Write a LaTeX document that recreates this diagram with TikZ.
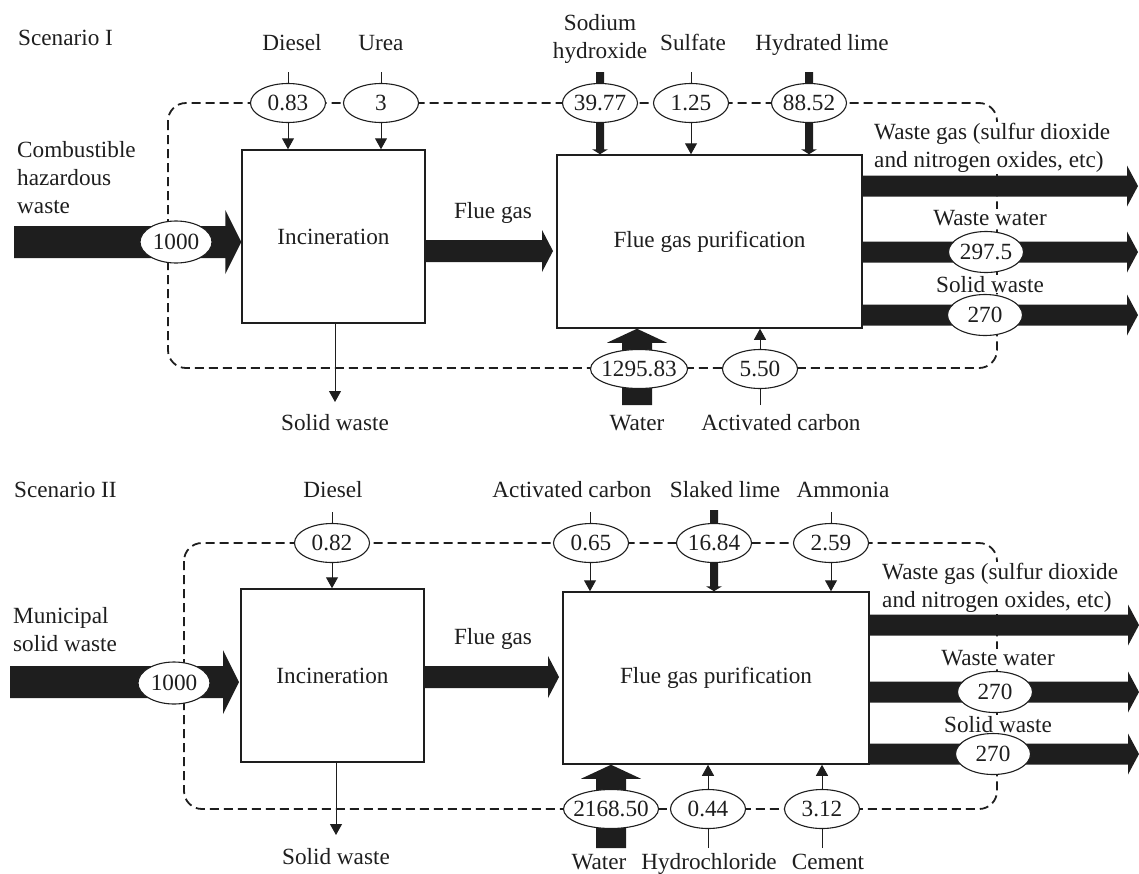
\documentclass[tikz,border=0pt]{standalone}
\usepackage{fontspec}
\setmainfont{Liberation Serif}
\usetikzlibrary{arrows.meta,shapes.geometric,calc,backgrounds}
\definecolor{ink}{HTML}{1E1E1E}
\newcommand\nb[1]{\makebox[0pt]{#1}}
% fat arrows: #1 start, #2 end, #3 body half width, #4 head half width, #5 head length
\newcommand\fatR[5]{\fill[fat] let \p1=(#1), \p2=(#2) in (\x1,\y1+#3) -- (\x2-#5,\y1+#3) -- (\x2-#5,\y1+#4) -- (\x2,\y1) -- (\x2-#5,\y1-#4) -- (\x2-#5,\y1-#3) -- (\x1,\y1-#3) -- cycle;}
\newcommand\fatU[5]{\fill[fat] let \p1=(#1), \p2=(#2) in (\x1-#3,\y1) -- (\x1-#3,\y2-#5) -- (\x1-#4,\y2-#5) -- (\x1,\y2) -- (\x1+#4,\y2-#5) -- (\x1+#3,\y2-#5) -- (\x1+#3,\y1) -- cycle;}
\newcommand\fatD[5]{\fill[fat] let \p1=(#1), \p2=(#2) in (\x1-#3,\y1) -- (\x1-#3,\y2+#5) -- (\x1-#4,\y2+#5) -- (\x1,\y2) -- (\x1+#4,\y2+#5) -- (\x1+#3,\y2+#5) -- (\x1+#3,\y1) -- cycle;}
\tikzset{
  every node/.style={font=\fontsize{23.2}{28}\selectfont, text=ink},
  lbl/.style={fill=white, inner sep=1pt},
  procbox/.style={rectangle, draw=ink, line width=1.5pt, fill=white, inner sep=0pt},
  val/.style={ellipse, draw=ink, line width=1.1pt, fill=white, minimum width=75pt, minimum height=39pt, inner sep=0pt},
  feedarrow/.style={draw=ink, line width=1pt, -{Triangle[width=12pt,length=11pt]}},
  loopline/.style={draw=ink, line width=1.8pt, dash pattern=on 9pt off 5pt, rounded corners=18pt},
  fat/.style={fill=ink},
}
\begin{document}
\begin{tikzpicture}[x=1pt,y=-1pt]
\useasboundingbox (0,0) rectangle (1139,873);

% ================= Scenario I =================
\node[lbl, anchor=base west] (s1) at (17,45) {Scenario I};
\node[lbl, anchor=base] (dsl1) at (292,50) {Diesel};
\node[lbl, anchor=base] (urea1) at (381,50) {Urea};
\node[lbl, anchor=north, align=center] (naoh1) at (600,13) {Sodium\\hydroxide};
\node[lbl, anchor=base] (sulf1) at (693,50) {Sulfate};
\node[lbl, anchor=base] (hyd1) at (822,50) {Hydrated lime};
\node[lbl, anchor=north west, align=left] (in1l) at (16,140) {Combustible\\hazardous\\waste};
\node[lbl, anchor=base] (fg1l) at (493,218) {Flue gas};
\node[lbl, anchor=north west, align=left] (wg1l) at (873,122) {Waste gas (sulfur dioxide\\and nitrogen oxides, etc)};
\node[lbl, anchor=base] (ww1l) at (990,225) {Waste water};
\node[lbl, anchor=base] (sw1l) at (990,292) {Solid waste};
\node[lbl, anchor=base] (isw1l) at (335,430) {Solid waste};
\node[lbl, anchor=base] (wat1l) at (637,430) {Water};
\node[lbl, anchor=base] (ac1l) at (781,430) {Activated carbon};

\node[procbox, minimum width=183pt, minimum height=173pt] (inc1) at (333.5,236.5) {Incineration};
\node[procbox, minimum width=305pt, minimum height=173pt] (fgp1) at (709.5,241.5) {Flue gas purification};

\coordinate (dsl1t) at (288,72);
\coordinate (urea1t) at (381,72);
\coordinate (naoh1t) at (600,72);
\coordinate (sulf1t) at (691,72);
\coordinate (hyd1t) at (809,72);
\coordinate (wat1b) at (637,405);
\coordinate (ac1b) at (760,405);
\coordinate (in1s) at (14,242);
\coordinate (fg1s) at (426,251);
\coordinate (fg1e) at (553,251);
\coordinate (o1as) at (862,186);
\coordinate (o1ae) at (1138,186);
\coordinate (o1bs) at (862,252);
\coordinate (o1be) at (1138,252);
\coordinate (o1cs) at (862,315);
\coordinate (o1ce) at (1138,315);
\coordinate (isw1e) at (335,402);

\begin{scope}[on background layer]
  \draw[loopline] (168,103) rectangle (997,368);
  \draw[feedarrow] (dsl1t) -- (dsl1t |- inc1.north);
  \draw[feedarrow] (urea1t) -- (urea1t |- inc1.north);
  \draw[feedarrow] (sulf1t) -- (sulf1t |- fgp1.north);
  \draw[feedarrow] (ac1b) -- (ac1b |- fgp1.south);
  \draw[feedarrow] (isw1e |- inc1.south) -- (isw1e);
  \fatD{naoh1t}{naoh1t |- fgp1.north}{4pt}{8pt}{5pt}
  \fatD{hyd1t}{hyd1t |- fgp1.north}{4pt}{8pt}{5pt}
  \fatU{wat1b}{wat1b |- fgp1.south}{15pt}{30pt}{14pt}
  \fatR{in1s}{in1s -| inc1.west}{16pt}{32pt}{16pt}
  \fatR{fg1s}{fg1e}{11pt}{21pt}{11pt}
  \fatR{o1as}{o1ae}{10.5pt}{20.5pt}{11pt}
  \fatR{o1bs}{o1be}{10.5pt}{20.5pt}{11pt}
  \fatR{o1cs}{o1ce}{10.5pt}{20.5pt}{11pt}
\end{scope}

\node[val] (v1a) at (288,103) {\nb{0.83}};
\node[val] (v1b) at (381,103) {\nb{3}};
\node[val] (v1c) at (600,103) {\nb{39.77}};
\node[val] (v1d) at (691,103) {\nb{1.25}};
\node[val] (v1e) at (809,103) {\nb{88.52}};
\node[val, minimum width=72pt, minimum height=42pt] (v1in) at (176,242) {\nb{1000}};
\node[val, minimum height=41pt] (v1ww) at (986,252) {\nb{297.5}};
\node[val, minimum height=41pt] (v1sw) at (985,315) {\nb{270}};
\node[val, minimum width=97pt] (v1wat) at (639,369) {\nb{1295.83}};
\node[val] (v1ac) at (760,369) {\nb{5.50}};

% ================= Scenario II =================
\node[lbl, anchor=base west] (s2) at (13,497) {Scenario II};
\node[lbl, anchor=base] (dsl2) at (333,497) {Diesel};
\node[lbl, anchor=base] (ac2l) at (572,497) {Activated carbon};
\node[lbl, anchor=base] (sl2l) at (725,497) {Slaked lime};
\node[lbl, anchor=base] (am2l) at (843,497) {Ammonia};
\node[lbl, anchor=north west, align=left] (in2l) at (12,606) {Municipal\\solid waste};
\node[lbl, anchor=base] (fg2l) at (493,644) {Flue gas};
\node[lbl, anchor=north west, align=left] (wg2l) at (881,562) {Waste gas (sulfur dioxide\\and nitrogen oxides, etc)};
\node[lbl, anchor=base] (ww2l) at (998,665) {Waste water};
\node[lbl, anchor=base] (sw2l) at (998,732) {Solid waste};
\node[lbl, anchor=base] (isw2l) at (336,864) {Solid waste};
\node[lbl, anchor=base] (wat2l) at (599,869) {Water};
\node[lbl, anchor=base] (hcl2l) at (709,869) {Hydrochloride};
\node[lbl, anchor=base] (cem2l) at (828,869) {Cement};

\node[procbox, minimum width=183pt, minimum height=173pt] (inc2) at (332.5,675.5) {Incineration};
\node[procbox, minimum width=306pt, minimum height=172pt] (fgp2) at (716,678) {Flue gas purification};

\coordinate (dsl2t) at (332,512);
\coordinate (ac2t) at (590,512);
\coordinate (sl2t) at (714,510);
\coordinate (am2t) at (831,512);
\coordinate (wat2b) at (611,848);
\coordinate (hcl2b) at (708,848);
\coordinate (cem2b) at (822,848);
\coordinate (in2s) at (10,682);
\coordinate (in2e) at (239,682);
\coordinate (fg2s) at (425,677);
\coordinate (fg2e) at (559,677);
\coordinate (o2as) at (869,625);
\coordinate (o2ae) at (1139,625);
\coordinate (o2bs) at (869,692);
\coordinate (o2be) at (1139,692);
\coordinate (o2cs) at (869,754);
\coordinate (o2ce) at (1139,754);
\coordinate (isw2e) at (336,835);

\begin{scope}[on background layer]
  \draw[loopline] (184,543) rectangle (997,809);
  \draw[feedarrow] (dsl2t) -- (dsl2t |- inc2.north);
  \draw[feedarrow] (ac2t) -- (ac2t |- fgp2.north);
  \draw[feedarrow] (am2t) -- (am2t |- fgp2.north);
  \draw[feedarrow] (hcl2b) -- (hcl2b |- fgp2.south);
  \draw[feedarrow] (cem2b) -- (cem2b |- fgp2.south);
  \draw[feedarrow] (isw2e |- inc2.south) -- (isw2e);
  \fatD{sl2t}{sl2t |- fgp2.north}{4pt}{8pt}{5pt}
  \fatU{wat2b}{wat2b |- fgp2.south}{15pt}{30pt}{14pt}
  \fatR{in2s}{in2e}{16pt}{32pt}{16pt}
  \fatR{fg2s}{fg2e}{11pt}{21pt}{11pt}
  \fatR{o2as}{o2ae}{10.5pt}{20.5pt}{11pt}
  \fatR{o2bs}{o2be}{10.5pt}{20.5pt}{11pt}
  \fatR{o2cs}{o2ce}{10.5pt}{20.5pt}{11pt}
\end{scope}

\node[val] (v2a) at (332,543) {\nb{0.82}};
\node[val] (v2b) at (591,543) {\nb{0.65}};
\node[val] (v2c) at (714,543) {\nb{16.84}};
\node[val] (v2d) at (831,543) {\nb{2.59}};
\node[val, minimum width=72pt, minimum height=42pt] (v2in) at (174,683) {\nb{1000}};
\node[val, minimum height=41pt] (v2ww) at (995,692) {\nb{270}};
\node[val, minimum height=41pt] (v2sw) at (993,754) {\nb{270}};
\node[val, minimum width=95pt] (v2wat) at (611,809) {\nb{2168.50}};
\node[val] (v2hcl) at (708,809) {\nb{0.44}};
\node[val] (v2cem) at (822,809) {\nb{3.12}};
\end{tikzpicture}
\end{document}
